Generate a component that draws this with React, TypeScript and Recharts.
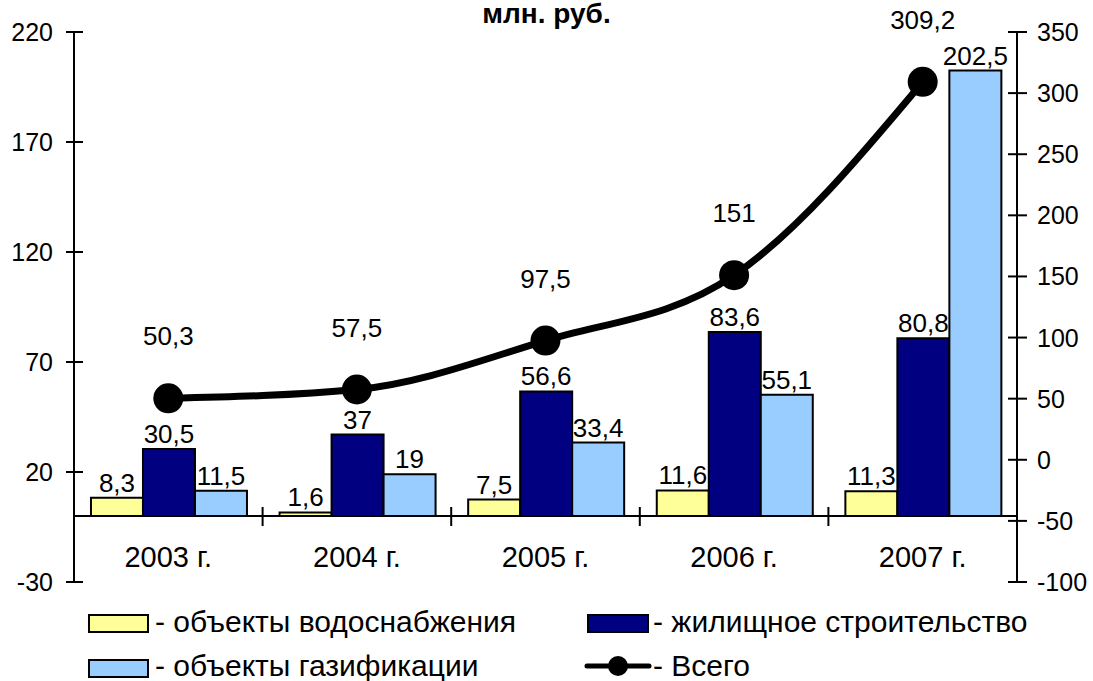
import React from 'react';
import {
  ComposedChart,
  Bar,
  Line,
  XAxis,
  YAxis,
  ReferenceLine,
  LabelList,
  Legend,
} from 'recharts';

const years = ['2003 г.', '2004 г.', '2005 г.', '2006 г.', '2007 г.'];
const water = [8.3, 1.6, 7.5, 11.6, 11.3];
const housing = [30.5, 37, 56.6, 83.6, 80.8];
const gas = [11.5, 19, 33.4, 55.1, 202.5];
const total = [50.3, 57.5, 97.5, 151, 309.2];
const leftTicks = [-30, 20, 70, 120, 170, 220];
const rightTicks = [-100, -50, 0, 50, 100, 150, 200, 250, 300, 350];

const data = years.map((year, i) => ({
  year,
  water: water[i],
  housing: housing[i],
  gas: gas[i],
  total: total[i],
}));

const FONT = '"Liberation Sans", Arial, sans-serif';
const W = 1093;
const H = 681;
const PLOT_LEFT = 74;
const PLOT_RIGHT = 1017;
const PLOT_TOP = 32;
const PLOT_BOTTOM = 582;
const BAND = (PLOT_RIGHT - PLOT_LEFT) / years.length;
// zero line of left axis, used for the category separator marks
const ZERO_OFFSET = (30 * (PLOT_BOTTOM - PLOT_TOP)) / 250;

const fmt = (v: any) => String(v).replace('.', ',');

const LeftTick = ({ x, y, payload }: any) => (
  <g>
    <line x1={x - 8} x2={x + 9} y1={y} y2={y} stroke="#000" strokeWidth={2} />
    <text x={x - 21} y={y} dy={9} textAnchor="end" fontSize={25} fontFamily={FONT} fill="#000">
      {payload.value}
    </text>
  </g>
);

const RightTick = ({ x, y, payload }: any) => (
  <g>
    <line x1={x - 9} x2={x + 10} y1={y} y2={y} stroke="#000" strokeWidth={2} />
    <text x={x + 20} y={y} dy={9} textAnchor="start" fontSize={25} fontFamily={FONT} fill="#000">
      {payload.value}
    </text>
  </g>
);

const CategoryTick = ({ x, y, payload, index }: any) => {
  const zy = y - ZERO_OFFSET;
  return (
    <g>
      {index < years.length - 1 && (
        <line x1={x + BAND / 2} x2={x + BAND / 2} y1={zy - 9} y2={zy + 10} stroke="#000" strokeWidth={2} />
      )}
      <text x={x} y={y - 15} textAnchor="middle" fontSize={29} fontFamily={FONT} fill="#000">
        {payload.value}
      </text>
    </g>
  );
};

const LegendBox = () => (
  <svg width={W} height={81} style={{ display: 'block', overflow: 'visible' }}>
    <g fontFamily={FONT} fontSize={30} fill="#000">
      <rect x={89} y={15} width={59} height={17} fill="#FFFF99" stroke="#000" strokeWidth={2} />
      <text x={155} y={32}>- объекты водоснабжения</text>
      <rect x={588} y={15} width={60} height={17} fill="#000080" stroke="#000" strokeWidth={2} />
      <text x={653} y={32}>- жилищное строительство</text>
      <rect x={89} y={60} width={59} height={17} fill="#99CCFF" stroke="#000" strokeWidth={2} />
      <text x={155} y={76}>- объекты газификации</text>
      <line x1={587} x2={649} y1={66} y2={66} stroke="#000" strokeWidth={5} strokeLinecap="round" />
      <circle cx={618} cy={66} r={10} fill="#000" />
      <text x={653} y={76}>- Всего</text>
    </g>
  </svg>
);

export default function App() {
  return (
    <div style={{ position: 'absolute', left: 0, top: 0, width: W, height: H, background: '#fff', overflow: 'hidden' }}>
      <div
        style={{
          position: 'absolute',
          left: 0,
          top: 0,
          width: W,
          textAlign: 'center',
          fontFamily: FONT,
          fontWeight: 'bold',
          fontSize: 28,
          lineHeight: '28px',
          marginTop: 0,
        }}
      >
        <span style={{ position: 'relative', left: 0 }}>млн. руб.</span>
      </div>
      <ComposedChart
        width={W}
        height={H}
        data={data}
        margin={{ top: PLOT_TOP, right: 0, bottom: 0, left: 0 }}
        barCategoryGap="9%"
        barGap={0}
      >
        <XAxis
          dataKey="year"
          height={H - PLOT_BOTTOM}
          axisLine={false}
          tickLine={false}
          tickSize={0}
          tickMargin={0}
          interval={0}
          tick={<CategoryTick />}
        />
        <YAxis
          yAxisId="left"
          width={PLOT_LEFT}
          domain={[-30, 220]}
          ticks={leftTicks}
          allowDataOverflow
          axisLine={{ stroke: '#000', strokeWidth: 2 }}
          tickLine={false}
          tickSize={0}
          tickMargin={0}
          tick={<LeftTick />}
        />
        <YAxis
          yAxisId="right"
          orientation="right"
          width={W - PLOT_RIGHT}
          domain={[-100, 350]}
          ticks={rightTicks}
          allowDataOverflow
          axisLine={{ stroke: '#000', strokeWidth: 2 }}
          tickLine={false}
          tickSize={0}
          tickMargin={0}
          tick={<RightTick />}
        />
        <ReferenceLine yAxisId="left" y={0} stroke="#000" strokeWidth={2} />
        <Bar yAxisId="left" dataKey="water" fill="#FFFF99" stroke="#000" strokeWidth={2} isAnimationActive={false}>
          <LabelList dataKey="water" position="top" offset={6} formatter={fmt} fill="#000" fontSize={26} fontFamily={FONT} />
        </Bar>
        <Bar yAxisId="left" dataKey="housing" fill="#000080" stroke="#000" strokeWidth={2} isAnimationActive={false}>
          <LabelList dataKey="housing" position="top" offset={6} formatter={fmt} fill="#000" fontSize={26} fontFamily={FONT} />
        </Bar>
        <Bar yAxisId="left" dataKey="gas" fill="#99CCFF" stroke="#000" strokeWidth={2} isAnimationActive={false}>
          <LabelList dataKey="gas" position="top" offset={6} formatter={fmt} fill="#000" fontSize={26} fontFamily={FONT} />
        </Bar>
        <Line
          yAxisId="right"
          type="monotone"
          dataKey="total"
          stroke="#000"
          strokeWidth={7}
          dot={{ r: 15, fill: '#000', stroke: 'none' }}
          activeDot={false}
          isAnimationActive={false}
        >
          <LabelList dataKey="total" position="top" offset={53} formatter={fmt} fill="#000" fontSize={26} fontFamily={FONT} />
        </Line>
        <Legend
          layout="horizontal"
          verticalAlign="middle"
          align="center"
          wrapperStyle={{ top: 600, left: 0, width: W, height: 81 }}
          content={<LegendBox />}
        />
      </ComposedChart>
    </div>
  );
}
